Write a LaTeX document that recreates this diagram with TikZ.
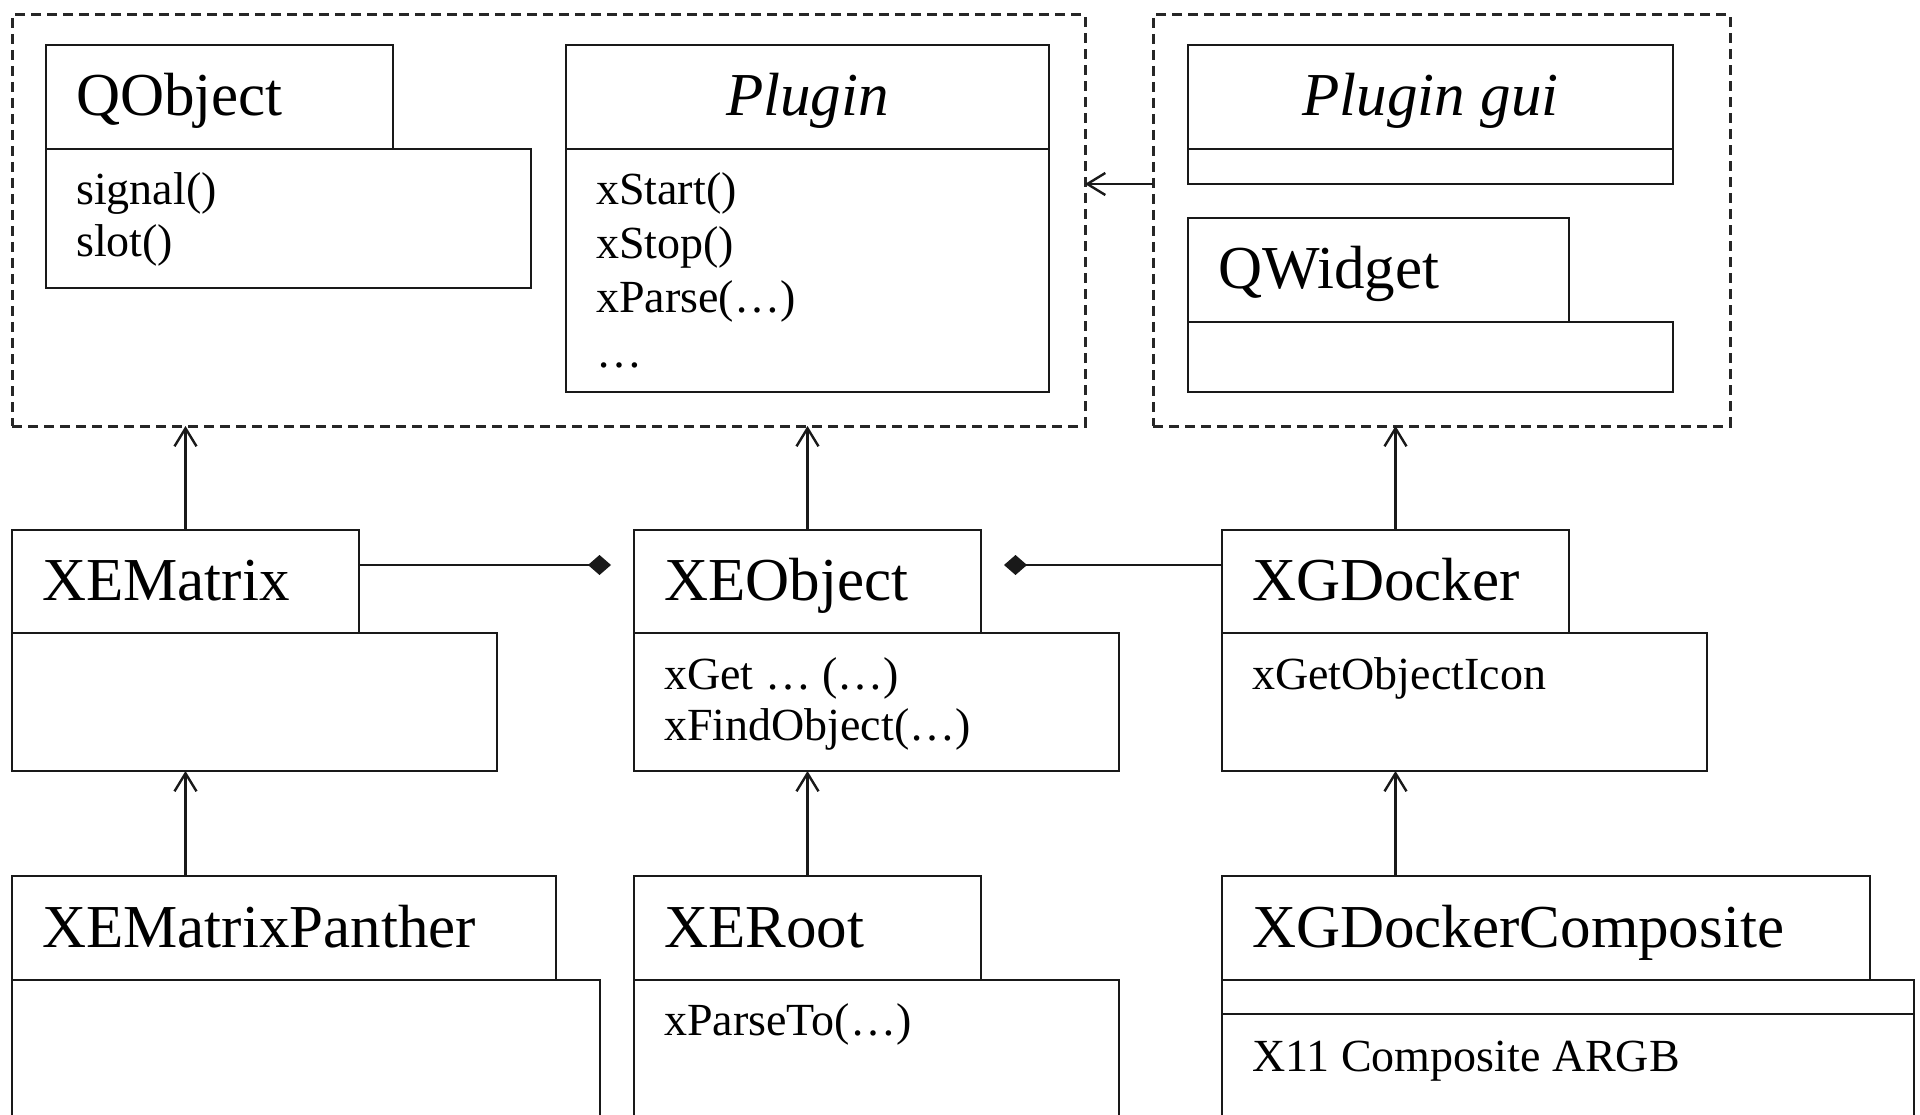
\documentclass[tikz,border=0pt]{standalone}
\usepackage{fontspec}
\setmainfont{Liberation Serif}
\usetikzlibrary{arrows.meta}
\tikzset{
  box/.style={draw=black!90, line width=2.3pt, anchor=north west, inner sep=0pt, outer sep=0pt},
  grp/.style={draw=black!85, line width=3pt, dash pattern=on 10pt off 6pt, anchor=north west, inner sep=0pt, outer sep=0pt},
  ttl/.style={anchor=base west, inner sep=0pt, font=\fontsize{61pt}{61pt}\selectfont},
  ittl/.style={anchor=base, inner sep=0pt, font=\fontsize{61pt}{61pt}\selectfont\itshape},
  mem/.style={anchor=base west, inner sep=0pt, font=\fontsize{46pt}{52pt}\selectfont},
  inh/.style={draw=black!90, line width=2.4pt, -{Straight Barb[length=18pt,width=22pt,line width=2.4pt]}},
  comp/.style={draw=black!90, line width=2.6pt, -{Diamond[length=23pt,width=20pt]}},
}
\begin{document}
\begin{tikzpicture}[x=1pt,y=-1pt]
\clip (0,0) rectangle (1920,1115);
\fill[white] (0,0) rectangle (1920,1115);

% package groups
\node[grp, minimum width=1073pt, minimum height=411pt] (g1) at (12,15) {};
\node[grp, minimum width=577pt, minimum height=411pt] (g2) at (1153,15) {};

% QObject
\node[box, minimum width=347pt, minimum height=104pt] (qoh) at (46,45) {};
\node[box, minimum width=485pt, minimum height=139pt] (qob) at (46,149) {};
\node[ttl] (qot) at (76,116) {QObject};
\node[mem] (qom1) at (76,205) {signal()};
\node[mem] (qom2) at (76,257) {slot()};

% Plugin
\node[box, minimum width=483pt, minimum height=104pt] (plh) at (566,45) {};
\node[box, minimum width=483pt, minimum height=243pt] (plb) at (566,149) {};
\node[ittl] (plt) at (807.5,116) {Plugin};
\node[mem] (plm1) at (596,205) {xStart()};
\node[mem] (plm2) at (596,259) {xStop()};
\node[mem] (plm3) at (596,313) {xParse(…)};
\node[mem] (plm4) at (596,367) {…};

% Plugin gui
\node[box, minimum width=485pt, minimum height=104pt] (pgh) at (1188,45) {};
\node[box, minimum width=485pt, minimum height=35pt] (pgb) at (1188,149) {};
\node[ittl] (pgt) at (1430.5,116) {Plugin gui};

% QWidget
\node[box, minimum width=381pt, minimum height=104pt] (qwh) at (1188,218) {};
\node[box, minimum width=485pt, minimum height=70pt] (qwb) at (1188,322) {};
\node[ttl] (qwt) at (1218,289) {QWidget};

% XEMatrix
\node[box, minimum width=347pt, minimum height=103pt] (xemh) at (12,530) {};
\node[box, minimum width=485pt, minimum height=138pt] (xemb) at (12,633) {};
\node[ttl] (xemt) at (42,600) {XEMatrix};

% XEObject
\node[box, minimum width=347pt, minimum height=103pt] (xeoh) at (634,530) {};
\node[box, minimum width=485pt, minimum height=138pt] (xeob) at (634,633) {};
\node[ttl] (xeot) at (664,600) {XEObject};
\node[mem] (xeom1) at (664,689) {xGet … (…)};
\node[mem] (xeom2) at (664,740) {xFindObject(…)};

% XGDocker
\node[box, minimum width=347pt, minimum height=103pt] (xgdh) at (1222,530) {};
\node[box, minimum width=485pt, minimum height=138pt] (xgdb) at (1222,633) {};
\node[ttl] (xgdt) at (1252,600) {XGDocker};
\node[mem] (xgdm1) at (1252,689) {xGetObjectIcon};

% XEMatrixPanther
\node[box, minimum width=544pt, minimum height=104pt] (xmph) at (12,876) {};
\node[box, minimum width=588pt, minimum height=200pt] (xmpb) at (12,980) {};
\node[ttl] (xmpt) at (42,947) {XEMatrixPanther};

% XERoot
\node[box, minimum width=347pt, minimum height=104pt] (xerh) at (634,876) {};
\node[box, minimum width=485pt, minimum height=200pt] (xerb) at (634,980) {};
\node[ttl] (xert) at (664,947) {XERoot};
\node[mem] (xerm1) at (664,1035) {xParseTo(…)};

% XGDockerComposite
\node[box, minimum width=648pt, minimum height=104pt] (xgch) at (1222,876) {};
\node[box, minimum width=692pt, minimum height=34pt] (xgcb1) at (1222,980) {};
\node[box, minimum width=692pt, minimum height=200pt] (xgcb2) at (1222,1014) {};
\node[ttl] (xgct) at (1252,947) {XGDockerComposite};
\node[mem] (xgcm1) at (1252,1071) {X11 Composite ARGB};

% generalisations
\draw[inh] (xemh.north) -- (xemh.north |- g1.south);
\draw[inh] (xeoh.north) -- (xeoh.north |- g1.south);
\draw[inh] (xgdh.north) -- (xgdh.north |- g2.south);
\draw[inh] (xmph.north -| xemh.north) -- (xemb.south -| xemh.north);
\draw[inh] (xerh.north -| xeoh.north) -- (xeob.south -| xeoh.north);
\draw[inh] (xgch.north -| xgdh.north) -- (xgdb.south -| xgdh.north);
\draw[inh] (g2.west |- pgb.south) -- (g1.east |- pgb.south);

% compositions
\coordinate (cl) at (611,565);
\coordinate (cr) at (1004,565);
\draw[comp] (xemh.east |- cl) -- (cl);
\draw[comp] (xgdh.west |- cr) -- (cr);
\end{tikzpicture}
\end{document}
